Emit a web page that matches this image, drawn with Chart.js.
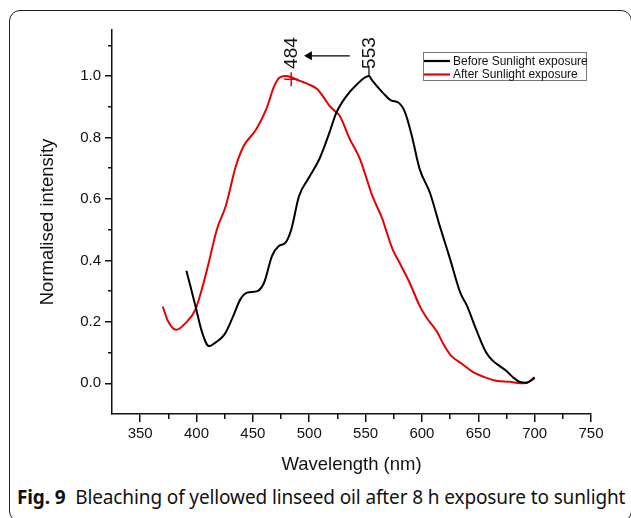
<!DOCTYPE html>
<html>
<head>
<meta charset="utf-8">
<script src="https://cdn.jsdelivr.net/npm/chart.js@4.4.1/dist/chart.umd.min.js"></script>
<style>
  html, body { margin: 0; padding: 0; background: #fff; }
  body { width: 631px; height: 518px; position: relative; overflow: hidden; }
  .frame {
    position: absolute; left: 9px; top: 10px; width: 623px; height: 512px;
    border: 1.5px solid #222; border-radius: 11px; box-sizing: border-box;
  }
  .wrap { position: absolute; left: 0; top: 0; width: 631px; height: 480px; }
  .caption {
    position: absolute; left: 17px; top: 484px; white-space: nowrap;
    font-family: "Noto Sans", sans-serif; font-size: 19px; letter-spacing: -0.12px; color: #111;
  }
  .caption b { font-weight: 700; }
</style>
</head>
<body>
<div class="frame"></div>
<div class="wrap"><canvas id="spectra" width="631" height="480"></canvas></div>
<div class="caption"><b>Fig. 9</b>&nbsp;&nbsp;Bleaching of yellowed linseed oil after 8 h exposure to sunlight</div>
<script>
// spectra
const wavelengthBefore = [391, 395, 399, 405, 411, 417, 425, 432, 439, 445, 454, 460, 467, 473, 479, 484,
  491, 499, 509, 518, 524, 532, 542, 553, 556, 565, 573, 579, 585, 591, 598, 607, 616, 625, 634, 640,
  648, 657, 663, 669, 675, 681, 687, 693, 700];
const intensityBefore = [0.366, 0.31, 0.252, 0.165, 0.121, 0.133, 0.16, 0.214, 0.274, 0.295, 0.30, 0.328,
  0.415, 0.447, 0.458, 0.50, 0.61, 0.665, 0.73, 0.817, 0.88, 0.93, 0.972, 1.0, 0.985, 0.947, 0.92, 0.914,
  0.882, 0.806, 0.697, 0.621, 0.51, 0.404, 0.295, 0.252, 0.176, 0.10, 0.073, 0.056, 0.04, 0.019, 0.004,
  0.002, 0.019];

const wavelengthAfter = [370, 375, 382, 390, 399, 405, 410, 418, 426, 435, 442, 453, 462, 469, 474, 480,
  484, 491, 499, 507, 513, 518, 524, 527, 536, 545, 556, 565, 568, 574, 580, 589, 598, 604, 613, 620, 626,
  636, 645, 654, 666, 678, 687, 693, 700];
const intensityAfter = [0.25, 0.20, 0.174, 0.195, 0.24, 0.31, 0.38, 0.50, 0.578, 0.708, 0.773, 0.827, 0.893,
  0.968, 0.996, 1.0, 0.996, 0.985, 0.974, 0.958, 0.93, 0.903, 0.882, 0.871, 0.795, 0.73, 0.61, 0.534, 0.50,
  0.436, 0.393, 0.328, 0.252, 0.214, 0.17, 0.121, 0.089, 0.062, 0.037, 0.022, 0.008, 0.005, 0.0, 0.002, 0.016];

const seriesNames = ["Before Sunlight exposure", "After Sunlight exposure"];

const xMajorTicks = [350, 400, 450, 500, 550, 600, 650, 700, 750];
const xMinorTicks = [375, 425, 475, 525, 575, 625, 675, 725];
const yMajorTicks = [0, 0.2, 0.4, 0.6, 0.8, 1.0];
const yMinorTicks = [0.1, 0.3, 0.5, 0.7, 0.9, 1.1];

// peak annotations: 553 -> 484 shift
const peakWavelengths = [484, 553];
const peakLevels = [0.99, 1.0];
const arrowWavelengths = [536, 500];
const arrowLevel = 1.066;

const toPoints = (xs, ys) => xs.map((x, i) => ({ x, y: ys[i] }));
const axisFont = { family: "'Liberation Sans', Arial, sans-serif", size: 15 };
const titleFont = { family: "'Liberation Sans', Arial, sans-serif", size: 18.5 };

const setTicks = (list) => (scale) => { scale.ticks = list.map((v) => ({ value: v })); };

const peakText = {
  id: "peakText",
  afterDatasetsDraw(chart) {
    const { ctx, scales } = chart;
    ctx.save();
    ctx.font = "19px 'Liberation Sans', Arial, sans-serif";
    ctx.fillStyle = "#111";
    ctx.textAlign = "center";
    ctx.textBaseline = "middle";
    peakWavelengths.forEach((w) => {
      ctx.save();
      ctx.translate(scales.x.getPixelForValue(w), scales.y.getPixelForValue(1.075));
      ctx.rotate(-Math.PI / 2);
      ctx.fillText(String(w), 0, 1);
      ctx.restore();
    });
    ctx.restore();
  }
};

const boxLegend = {
  id: "boxLegend",
  afterDraw(chart) {
    const ctx = chart.ctx;
    ctx.save();
    ctx.strokeStyle = "#777";
    ctx.lineWidth = 1;
    ctx.strokeRect(423.5, 52.5, 163, 28);
    ctx.font = "12px 'Liberation Sans', Arial, sans-serif";
    ctx.textBaseline = "middle";
    [0, 1].forEach((i) => {
      const ds = chart.data.datasets[i];
      const y = 61 + i * 13.5;
      ctx.strokeStyle = ds.borderColor;
      ctx.lineWidth = 2.2;
      ctx.beginPath();
      ctx.moveTo(424, y);
      ctx.lineTo(450, y);
      ctx.stroke();
      ctx.fillStyle = "#111";
      ctx.fillText(ds.label, 453, y + 0.5);
    });
    ctx.restore();
  }
};

new Chart(document.getElementById("spectra"), {
  type: "line",
  data: {
    datasets: [
      {
        label: seriesNames[0],
        data: toPoints(wavelengthBefore, intensityBefore),
        borderColor: "#000",
        borderWidth: 2,
        pointRadius: 0,
        cubicInterpolationMode: "monotone"
      },
      {
        label: seriesNames[1],
        data: toPoints(wavelengthAfter, intensityAfter),
        borderColor: "#e60000",
        borderWidth: 2,
        pointRadius: 0,
        cubicInterpolationMode: "monotone"
      },
      {
        label: "peak484",
        data: [{ x: peakWavelengths[0], y: peakLevels[0] }],
        showLine: false,
        pointStyle: "cross",
        pointRadius: 7,
        borderColor: "#e60000",
        borderWidth: 1.5
      },
      {
        label: "peak553",
        data: [{ x: peakWavelengths[1], y: peakLevels[1] }, { x: peakWavelengths[1], y: 1.032 }],
        borderColor: "#000",
        borderWidth: 1.2,
        pointRadius: 0
      },
      {
        label: "shift",
        data: toPoints(arrowWavelengths, [arrowLevel, arrowLevel]),
        borderColor: "#000",
        backgroundColor: "#000",
        borderWidth: 1.2,
        pointStyle: "triangle",
        rotation: -90,
        pointRadius: [0, 4]
      }
    ]
  },
  options: {
    responsive: false,
    animation: false,
    layout: { padding: { top: 30, right: 40, bottom: 0, left: 0 } },
    plugins: { legend: { display: false }, tooltip: { enabled: false } },
    scales: {
      x: {
        type: "linear", position: "bottom", weight: 1, min: 325, max: 750,
        afterBuildTicks: setTicks(xMajorTicks),
        afterFit: (s) => { s.height = 66; },
        ticks: { font: axisFont, color: "#111", padding: 3, maxRotation: 0, autoSkip: false },
        grid: { drawOnChartArea: false, tickLength: 8, color: "#111", lineWidth: 1.5 },
        border: { color: "#111", width: 1.5 },
        title: { display: true, text: "Wavelength (nm)", font: titleFont, color: "#111", padding: { top: 0, bottom: 4 } }
      },
      xMinor: {
        type: "linear", position: "bottom", weight: 0, min: 325, max: 750,
        afterBuildTicks: setTicks(xMinorTicks),
        afterFit: (s) => { s.height = 0; },
        ticks: { display: false },
        grid: { drawOnChartArea: false, tickLength: 5, color: "#111", lineWidth: 1.5 },
        border: { display: false }
      },
      y: {
        type: "linear", position: "left", weight: 1, min: -0.1, max: 1.15,
        afterBuildTicks: setTicks(yMajorTicks),
        afterFit: (s) => { s.width = 112; },
        ticks: { font: axisFont, color: "#111", padding: 4, callback: (v) => v.toFixed(1) },
        grid: { drawOnChartArea: false, tickLength: 7, color: "#111", lineWidth: 1.5 },
        border: { color: "#111", width: 1.5 },
        title: { display: true, text: "Normalised intensity", font: titleFont, color: "#111", padding: { top: 37, bottom: 0 } }
      },
      yMinor: {
        type: "linear", position: "left", weight: 0, min: -0.1, max: 1.15,
        afterBuildTicks: setTicks(yMinorTicks),
        afterFit: (s) => { s.width = 0; },
        ticks: { display: false },
        grid: { drawOnChartArea: false, tickLength: 4, color: "#111", lineWidth: 1.5 },
        border: { display: false }
      }
    }
  },
  plugins: [peakText, boxLegend]
});
</script>
</body>
</html>
